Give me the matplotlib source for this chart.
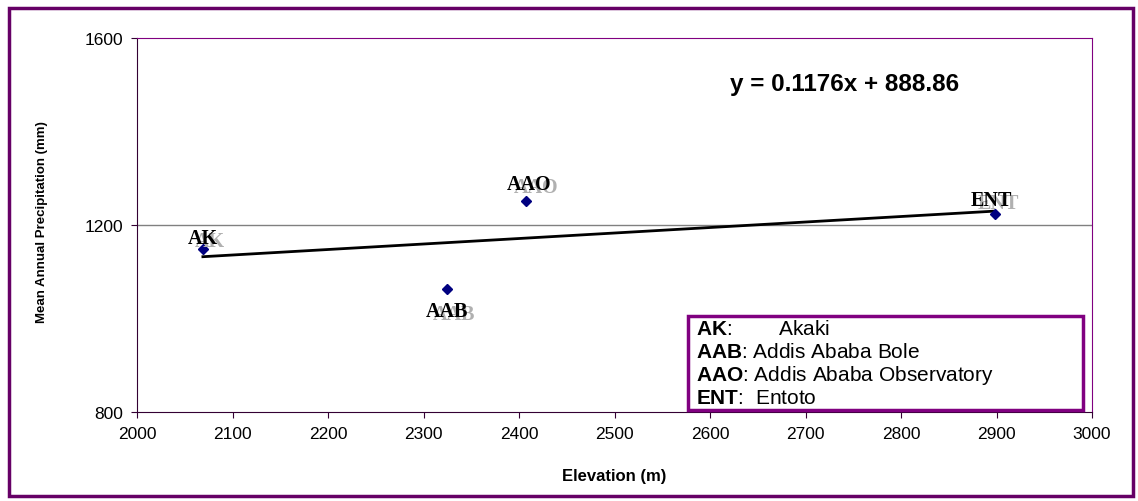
import numpy as np
import matplotlib
matplotlib.use("Agg")
import matplotlib.pyplot as plt
from matplotlib.patches import Rectangle

plt.rcParams['font.family'] = ['Liberation Sans', 'DejaVu Sans']
plt.rcParams['mathtext.fontset'] = 'custom'
plt.rcParams['mathtext.bf'] = 'Liberation Sans:bold'
plt.rcParams['mathtext.rm'] = 'Liberation Sans'

# station data
stations = ['AK', 'AAB', 'AAO', 'ENT']
elevation = [2069, 2325, 2407, 2898]
precip = [1149, 1063, 1251, 1224]
names = ['Akaki', 'Addis Ababa Bole', 'Addis Ababa Observatory', 'Entoto']
trend_slope = 0.1176
trend_intercept = 888.86

W, H = 1138, 502
fig = plt.figure(figsize=(W / 100, H / 100), dpi=100)

def fx(px):
    return px / W

def fy(py):
    return 1 - py / H

# outer chart frame
fig.patches.append(Rectangle((fx(9), fy(497)), fx(1124), (497 - 9) / H,
                             transform=fig.transFigure, fill=False,
                             edgecolor='#660066', lw=2.5))

ax = fig.add_axes([fx(137), fy(413), fx(1092 - 137), (413 - 39) / H])
ax.set_xlim(2000, 3000)
ax.set_ylim(800, 1600)
ax.set_xticks(np.arange(2000, 3001, 100))
ax.set_yticks([800, 1200, 1600])
ax.axhline(1200, color='#808080', lw=1, zorder=1)
ax.tick_params(direction='out', length=4, width=0.8, labelsize=12.5,
               color='#330033', pad=6)
for s in ['left', 'bottom']:
    ax.spines[s].set_color('#330033')
for s in ['top', 'right']:
    ax.spines[s].set_color('#800080')

# trendline across the data range
xs = np.array([min(elevation), max(elevation)])
ax.plot(xs, trend_slope * xs + trend_intercept, color='black', lw=2, zorder=2)

ax.plot(elevation, precip, linestyle='none', marker='D', markersize=5,
        color='#000080', zorder=3)

# point labels with grey shadow
label_off = {'AK': (0, 11), 'AAB': (0, -22), 'AAO': (3, 17), 'ENT': (-3, 14)}
for st, x, y in zip(stations, elevation, precip):
    dx, dy = label_off[st]
    ax.annotate(st, (x, y), xytext=(dx + 7, dy - 3), textcoords='offset pixels',
                ha='center', va='center', fontsize=14.5, fontweight='bold',
                family='Liberation Serif', color='#b0b0b0', zorder=4)
    ax.annotate(st, (x, y), xytext=(dx, dy), textcoords='offset pixels',
                ha='center', va='center', fontsize=14.5, fontweight='bold',
                family='Liberation Serif', color='black', zorder=5)

fig.text(fx(845), fy(84), 'y = 0.1176x + 888.86', ha='center', va='center',
         fontsize=17.5, fontweight='bold')

ax.set_xlabel('Elevation (m)', fontsize=12, fontweight='bold')
ax.xaxis.set_label_coords(0.5, -0.15)
fig.text(fx(42), fy(222), 'Mean Annual Precipitation (mm)', rotation=90,
         ha='center', va='center', fontsize=9.5, fontweight='bold')

# station key box
fig.patches.append(Rectangle((fx(688), fy(411)), fx(1083 - 688), (411 - 317) / H,
                             transform=fig.transFigure, facecolor='white',
                             edgecolor='#800080', lw=2.5, zorder=10))
gaps = {'AK': '       ', 'AAB': '', 'AAO': '', 'ENT': ' '}
for i, (st, nm) in enumerate(zip(stations, names)):
    fig.text(fx(696), fy(330 + 23 * i), r'$\mathbf{' + st + '}$:' + gaps[st] + ' ' + nm,
             ha='left', va='center', fontsize=15, zorder=11)

fig.savefig('out.png', dpi=100)
